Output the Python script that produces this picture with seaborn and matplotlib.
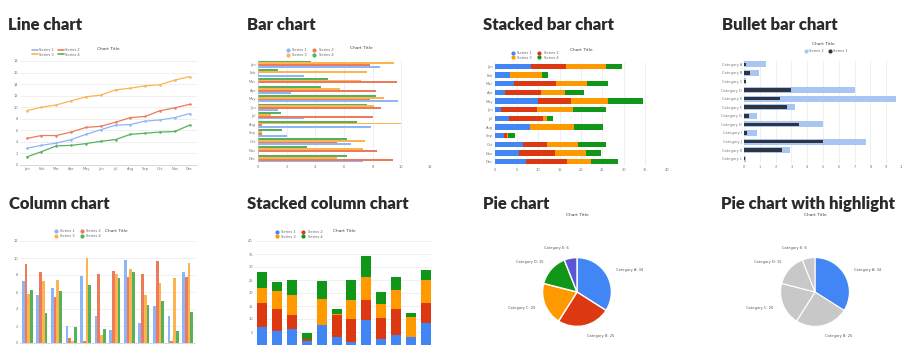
import numpy as np
import pandas as pd
import matplotlib.pyplot as plt
import seaborn as sns
from matplotlib.lines import Line2D

# ---- data ----
months = ['Jan', 'Feb', 'Mar', 'Apr', 'May', 'Jun', 'Jul', 'Aug', 'Sep', 'Oct', 'Nov', 'Dec']
series_names = ['Series 1', 'Series 2', 'Series 3', 'Series 4']

line_s1 = [2.9, 3.4, 3.8, 4.4, 5.3, 6.1, 6.9, 7.0, 7.6, 7.8, 8.2, 8.9]
line_s2 = [4.6, 5.1, 5.1, 5.7, 6.5, 6.7, 7.4, 8.2, 8.4, 9.4, 9.9, 10.5]
line_s3 = [9.4, 10.0, 10.4, 11.1, 11.8, 12.1, 13.0, 13.3, 13.7, 13.9, 14.7, 15.3]
line_s4 = [1.4, 2.3, 3.3, 3.4, 3.7, 4.1, 4.4, 5.3, 5.5, 5.7, 5.8, 6.9]

bar_s1 = [8.5, 3.2, 0.0, 2.3, 9.8, 1.4, 3.2, 7.9, 2.0, 6.5, 0.1, 7.3]
bar_s2 = [7.8, 0.1, 9.7, 8.2, 7.8, 8.6, 8.0, 0.3, 0.3, 5.5, 8.3, 9.4]
bar_s3 = [9.5, 7.6, 7.2, 5.7, 8.8, 8.1, 0.9, 10.0, 0.3, 7.5, 7.3, 5.5]
bar_s4 = [3.7, 1.4, 4.9, 4.4, 8.2, 7.6, 1.6, 6.9, 1.7, 6.2, 3.4, 6.2]

sbar_s1 = [8.4, 3.4, 4.5, 2.3, 9.9, 1.3, 3.3, 8.1, 2.0, 6.6, 5.6, 7.3]
sbar_s2 = [8.0, 0.2, 9.6, 8.4, 7.8, 8.4, 7.8, 0.1, 0.9, 5.5, 8.4, 9.5]
sbar_s3 = [9.3, 7.4, 7.2, 5.5, 8.6, 8.4, 0.9, 10.1, 0.2, 7.3, 7.2, 5.5]
sbar_s4 = [3.8, 1.4, 4.9, 4.5, 8.2, 7.6, 1.6, 6.9, 1.6, 6.3, 3.4, 6.2]

bullet_cats = ['Category ' + c for c in 'ABCDEFGHIJKL']
bullet_target = [1.4, 0.95, 0.15, 7.0, 9.6, 3.2, 0.8, 5.0, 0.8, 7.7, 2.9, 0.15]
bullet_actual = [0.15, 0.4, 0.1, 3.0, 2.3, 2.7, 0.3, 3.5, 0.2, 5.0, 2.4, 0.08]

col_s1 = [7.3, 5.6, 6.5, 2.0, 7.9, 3.2, 1.5, 9.8, 2.4, 4.3, 3.2, 8.4]
col_s2 = [9.3, 8.3, 5.4, 0.6, 0.2, 8.1, 8.5, 7.8, 8.1, 9.6, 0.2, 7.8]
col_s3 = [5.8, 7.3, 7.4, 0.2, 10.0, 0.9, 8.1, 8.7, 5.6, 7.1, 7.6, 9.4]
col_s4 = [6.2, 3.5, 6.1, 1.9, 6.8, 1.6, 7.6, 8.3, 4.5, 5.0, 1.4, 3.6]

scol_s1 = [7.0, 5.5, 6.1, 1.7, 7.6, 3.2, 1.0, 9.5, 2.3, 3.8, 3.2, 8.5]
scol_s2 = [9.3, 8.2, 5.6, 0.8, 0.0, 8.2, 8.9, 8.0, 7.9, 9.9, 0.0, 7.6]
scol_s3 = [5.6, 7.0, 7.4, 0.0, 10.2, 0.7, 7.6, 8.5, 5.7, 7.3, 7.6, 9.0]
scol_s4 = [6.3, 3.7, 6.0, 2.2, 6.7, 1.6, 7.6, 8.3, 4.4, 5.0, 1.5, 3.9]

pie_labels = ['Category A: 34', 'Category B: 25', 'Category C: 20', 'Category D: 15', 'Category E: 6']
pie_values = [34, 25, 20, 15, 6]

# ---- style ----
main_colors = ['#4285F4', '#DC3912', '#FF9900', '#109618']
light_colors = ['#8DB6F7', '#EC7A5C', '#FDB44F', '#55B25A']
purple = '#5B55D6'
grey_slice = '#C8C8C8'
tick_size = 2.6
title_kw = dict(fontsize=12, fontweight='heavy', family=['Lato', 'DejaVu Sans'], color='#2B2B2B')

sns.set_theme(style='whitegrid')
plt.rcParams.update({
    'grid.color': '#E4E4E4',
    'grid.linewidth': 0.4,
    'axes.edgecolor': '#BBBBBB',
    'axes.linewidth': 0.4,
    'xtick.color': '#777777',
    'ytick.color': '#777777',
    'xtick.major.size': 0,
    'ytick.major.size': 0,
    'xtick.major.pad': 1.5,
    'ytick.major.pad': 1.5,
})
bar_kw = dict(saturation=1, linewidth=0)


def long_df(cats, values):
    rows = []
    for name, vals in zip(series_names, values):
        for c, v in zip(cats, vals):
            rows.append({'cat': c, 'series': name, 'value': v})
    return pd.DataFrame(rows)


def tidy(ax, grid_axis):
    ax.set_xlabel('')
    ax.set_ylabel('')
    ax.tick_params(labelsize=tick_size)
    ax.grid(axis=grid_axis, visible=False)
    for s in ['top', 'right', 'left']:
        ax.spines[s].set_visible(False)
    ax.spines['bottom'].set_visible(grid_axis == 'x')


def chart_title(ax, x=0.5, y=1.12):
    ax.text(x, y, 'Chart Title', transform=ax.transAxes, ha='center', va='bottom',
            fontsize=3.2, color='#444444')


def series_legend(ax, colors, kind='dot', x=0.05, y=1.13, order=(0, 2, 1, 3), ncol=2):
    handles = []
    for i in order:
        if kind == 'line':
            h = Line2D([0], [0], color=colors[i], lw=1.2)
        else:
            h = Line2D([0], [0], color=colors[i], marker='o', lw=0, markersize=2)
        handles.append(h)
    labels = [series_names[i] for i in order]
    ax.legend(handles, labels, loc='upper left', bbox_to_anchor=(x, y), ncol=ncol,
              frameon=False, fontsize=2.6, handlelength=1.6, handletextpad=0.4,
              columnspacing=1.2, borderaxespad=0, labelspacing=0.2, labelcolor='#666666')


W, H = 903, 345
fig = plt.figure(figsize=(9.03, 3.45), dpi=100)


def add_axes(x0, y0, x1, y1):
    return fig.add_axes([x0 / W, 1 - y1 / H, (x1 - x0) / W, (y1 - y0) / H])


# section titles
for text, x, y in [('Line chart', 8, 30), ('Bar chart', 247, 30), ('Stacked bar chart', 483, 30),
                   ('Bullet bar chart', 722, 30), ('Column chart', 9, 209),
                   ('Stacked column chart', 247, 209), ('Pie chart', 483, 209),
                   ('Pie chart with highlight', 721, 209)]:
    fig.text(x / W, 1 - y / H, text, ha='left', va='baseline', **title_kw)

# ---- line chart ----
ax = add_axes(20, 61, 197, 165)
df = long_df(months, [line_s1, line_s2, line_s3, line_s4])
sns.lineplot(data=df, x='cat', y='value', hue='series', palette=light_colors, marker='o',
             markersize=1.8, markeredgewidth=0, linewidth=0.9, sort=False, legend=False, ax=ax)
ax.set_ylim(0, 18)
ax.set_yticks(np.arange(0, 19, 2))
ax.set_xlim(-0.45, 11.5)
tidy(ax, 'x')
chart_title(ax, y=1.1)
series_legend(ax, light_colors, kind='line', x=0.06, y=1.14)

# ---- bar chart ----
ax = add_axes(258, 60, 430, 163)
df = long_df(months, [bar_s1, bar_s2, bar_s3, bar_s4])
sns.barplot(data=df, y='cat', x='value', hue='series', orient='h',
            hue_order=series_names[::-1], palette=light_colors[::-1], width=0.85,
            legend=False, ax=ax, **bar_kw)
ax.set_xlim(0, 12)
ax.set_xticks(np.arange(0, 13, 2))
tidy(ax, 'y')
ax.axvline(0, color='#CCCCCC', lw=0.4)
chart_title(ax, x=0.6, y=1.1)
series_legend(ax, light_colors, x=0.15, y=1.13)

# ---- stacked bar chart ----
ax = add_axes(495, 62, 667, 166)
stack = np.cumsum([sbar_s1, sbar_s2, sbar_s3, sbar_s4], axis=0)
for i in range(3, -1, -1):
    sns.barplot(x=stack[i], y=months, orient='h', color=main_colors[i], width=0.6,
                ax=ax, **bar_kw)
ax.set_xlim(0, 40)
ax.set_xticks(np.arange(0, 41, 5))
tidy(ax, 'y')
chart_title(ax, x=0.5, y=1.1)
series_legend(ax, main_colors, x=0.08, y=1.12)

# ---- bullet bar chart ----
ax = add_axes(744, 60, 902, 163)
sns.barplot(x=bullet_target, y=bullet_cats, orient='h', color='#A9C6F2', width=0.7,
            ax=ax, **bar_kw)
sns.barplot(x=bullet_actual, y=bullet_cats, orient='h', color='#2F3540', width=0.4,
            ax=ax, **bar_kw)
ax.set_xlim(0, 10)
ax.set_xticks(np.arange(0, 11, 1))
tidy(ax, 'y')
chart_title(ax, x=0.5, y=1.14)
ax.legend([Line2D([0], [0], color='#A9C6F2', marker='o', lw=0, markersize=2),
           Line2D([0], [0], color='#2F3540', marker='o', lw=0, markersize=2)],
          ['Series 2', 'Series 1'], loc='upper center', bbox_to_anchor=(0.52, 1.12), ncol=2,
          frameon=False, fontsize=2.6, handlelength=1.0, handletextpad=0.4,
          columnspacing=1.2, borderaxespad=0, labelcolor='#666666')

# ---- column chart ----
ax = add_axes(20, 241, 195, 343)
df = long_df(months, [col_s1, col_s2, col_s3, col_s4])
sns.barplot(data=df, x='cat', y='value', hue='series', palette=light_colors, width=0.75,
            legend=False, ax=ax, **bar_kw)
ax.set_ylim(0, 12)
ax.set_yticks(np.arange(0, 13, 2))
tidy(ax, 'x')
ax.tick_params(axis='x', labelbottom=False)
chart_title(ax, x=0.55, y=1.08)
series_legend(ax, light_colors, x=0.18, y=1.13)

# ---- stacked column chart ----
ax = add_axes(255, 241, 433, 345)
stack = np.cumsum([scol_s1, scol_s2, scol_s3, scol_s4], axis=0)
for i in range(3, -1, -1):
    sns.barplot(x=months, y=stack[i], color=main_colors[i], width=0.68, ax=ax, **bar_kw)
ax.set_ylim(0, 40)
ax.set_yticks(np.arange(5, 41, 5))
tidy(ax, 'x')
ax.tick_params(axis='x', labelbottom=False)
chart_title(ax, x=0.5, y=1.08)
series_legend(ax, main_colors, x=0.1, y=1.12)

# ---- pie chart ----
ax = add_axes(534, 249, 620, 335)
ax.pie(pie_values, labels=pie_labels, colors=main_colors + [purple], startangle=90,
       counterclock=False, labeldistance=1.3, textprops={'fontsize': 2.6, 'color': '#555555'})
ax.set_aspect('equal')
ax.text(0.5, 1.38, 'Chart Title', transform=ax.transAxes, ha='center', fontsize=3.2,
        color='#444444')

# ---- pie chart with highlight ----
ax = add_axes(772, 249, 858, 335)
ax.pie(pie_values, labels=pie_labels, colors=[main_colors[0]] + [grey_slice] * 4,
       startangle=90, counterclock=False, labeldistance=1.3,
       wedgeprops={'edgecolor': 'white', 'linewidth': 0.8},
       textprops={'fontsize': 2.6, 'color': '#555555'})
ax.set_aspect('equal')
ax.text(0.5, 1.38, 'Chart Title', transform=ax.transAxes, ha='center', fontsize=3.2,
        color='#444444')

fig.savefig('out.png', dpi=100)
